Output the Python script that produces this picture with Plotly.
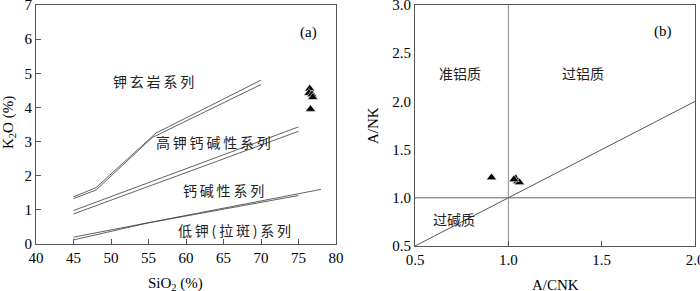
import plotly.graph_objects as go

# ---- Panel (a): K2O vs SiO2 ----
sho_upper_x = [45, 48, 56, 70]
sho_upper_y = [1.38, 1.65, 3.25, 4.80]
sho_lower_x = [45, 48, 55.5, 70]
sho_lower_y = [1.33, 1.58, 3.12, 4.67]

hk_upper_x = [45, 75]
hk_upper_y = [0.98, 3.43]
hk_lower_x = [45, 75]
hk_lower_y = [0.88, 3.30]

lk_a_x = [45, 78]
lk_a_y = [0.20, 1.60]
lk_b_x = [45, 55, 75]
lk_b_y = [0.12, 0.62, 1.42]

sample_sio2 = [76.5, 76.4, 76.8, 76.9, 76.6]
sample_k2o = [4.55, 4.42, 4.38, 4.30, 3.95]

labels_a = ["钾玄岩系列", "高钾钙碱性系列", "钙碱性系列", "低钾(拉斑)系列"]
labels_a_x = [55.6, 63.7, 65.0, 66.5]
labels_a_y = [4.76, 2.98, 1.58, 0.40]

# ---- Panel (b): A/NK vs A/CNK ----
ref_x = [0.5, 2.0]
ref_y = [0.5, 2.0]
sample_acnk = [0.91, 1.04, 1.05, 1.06, 1.03]
sample_ank = [1.21, 1.20, 1.17, 1.16, 1.19]

labels_b = ["准铝质", "过铝质", "过碱质"]
labels_b_x = [0.74, 1.40, 0.71]
labels_b_y = [2.29, 2.29, 0.78]

xticks_a = [40, 45, 50, 55, 60, 65, 70, 75, 80]
yticks_a = [0, 1, 2, 3, 4, 5, 6, 7]
xticks_b = [0.5, 1.0, 1.5, 2.0]
yticks_b = [0.5, 1.0, 1.5, 2.0, 2.5, 3.0]

SERIF = "Liberation Serif, Times New Roman, serif"
CJK = "Noto Sans CJK SC"
LINE_C = "#3a3a3a"
FRAME_C = "#555555"
SP = "\u2009"

fig = go.Figure()

for xs, ys in [(sho_upper_x, sho_upper_y), (sho_lower_x, sho_lower_y),
               (hk_upper_x, hk_upper_y), (hk_lower_x, hk_lower_y),
               (lk_a_x, lk_a_y), (lk_b_x, lk_b_y)]:
    fig.add_trace(go.Scatter(x=xs, y=ys, mode="lines", xaxis="x", yaxis="y",
                             line=dict(color=LINE_C, width=0.8),
                             hoverinfo="skip", showlegend=False))

fig.add_trace(go.Scatter(x=sample_sio2, y=sample_k2o, mode="markers",
                         xaxis="x", yaxis="y",
                         marker=dict(symbol="triangle-up", size=9, color="black",
                                     line=dict(color="white", width=0.6)),
                         showlegend=False))

# panel b reference lines
fig.add_trace(go.Scatter(x=ref_x, y=ref_y, mode="lines", xaxis="x2", yaxis="y2",
                         line=dict(color="#555555", width=1), showlegend=False,
                         hoverinfo="skip"))
fig.add_trace(go.Scatter(x=[1.0, 1.0], y=[0.5, 3.0], mode="lines", xaxis="x2", yaxis="y2",
                         line=dict(color="#888888", width=1), showlegend=False,
                         hoverinfo="skip"))
fig.add_trace(go.Scatter(x=[0.5, 2.0], y=[1.0, 1.0], mode="lines", xaxis="x2", yaxis="y2",
                         line=dict(color="#666666", width=1), showlegend=False,
                         hoverinfo="skip"))
fig.add_trace(go.Scatter(x=sample_acnk, y=sample_ank, mode="markers",
                         xaxis="x2", yaxis="y2",
                         marker=dict(symbol="triangle-up", size=9, color="black",
                                     line=dict(color="white", width=0.6)),
                         showlegend=False))

annotations = []
for t, x, y in zip(labels_a, labels_a_x, labels_a_y):
    annotations.append(dict(text=SP.join(t), x=x, y=y, xref="x", yref="y", showarrow=False,
                            font=dict(family=CJK, size=14, color="#222")))
for t, x, y in zip(labels_b, labels_b_x, labels_b_y):
    annotations.append(dict(text=t, x=x, y=y, xref="x2", yref="y2", showarrow=False,
                            font=dict(family=CJK, size=14, color="#222")))
annotations.append(dict(text="(a)", x=76.3, y=6.2, xref="x", yref="y", showarrow=False,
                        font=dict(family=SERIF, size=15, color="black")))
annotations.append(dict(text="(b)", x=1.83, y=2.72, xref="x2", yref="y2", showarrow=False,
                        font=dict(family=SERIF, size=15, color="black")))
# axis titles (pixel positions converted to paper fractions below)
titles = [
    ("K<sub>2</sub>O (%)", 9, 123, -90),
    ("SiO<sub>2</sub> (%)", 175, 284, 0),
    ("A/NK", 373, 125, -90),
    ("A/CNK", 555, 285, 0),
]
for t, px, py, ang in titles:
    annotations.append(dict(text=t, x=px / 700, y=(291 - py) / 291, xref="paper", yref="paper",
                            xanchor="center", yanchor="middle",
                            showarrow=False, textangle=ang,
                            font=dict(family=SERIF, size=15, color="black")))

axis_common = dict(showgrid=False, zeroline=False, showline=True, linecolor=FRAME_C,
                   linewidth=1, mirror=True, automargin=False, ticklabeloverflow="allow",
                   tickfont=dict(family=SERIF, size=15, color="black"))

fig.update_layout(
    width=700, height=291,
    margin=dict(l=0, r=0, t=0, b=0),
    paper_bgcolor="white", plot_bgcolor="white",
    showlegend=False,
    xaxis=dict(domain=[36 / 700, 336 / 700], range=[40, 80], tickvals=xticks_a,
               ticks="inside", ticklen=5, tickcolor=FRAME_C, anchor="y", **axis_common),
    yaxis=dict(domain=[(291 - 244) / 291, (291 - 5) / 291], range=[0, 7], tickvals=yticks_a,
               ticks="inside", ticklen=5, tickcolor=FRAME_C, anchor="x", **axis_common),
    xaxis2=dict(domain=[415 / 700, 695 / 700], range=[0.5, 2.0], tickvals=xticks_b,
                ticktext=["0.5", "1.0", "1.5", "2.0"],
                ticks="inside", ticklen=5, tickcolor=FRAME_C, anchor="y2", **axis_common),
    yaxis2=dict(domain=[(291 - 246) / 291, (291 - 5) / 291], range=[0.5, 3.0], tickvals=yticks_b,
                ticktext=["0.5", "1.0", "1.5", "2.0", "2.5", "3.0"],
                ticks="", anchor="x2", **axis_common),
    annotations=annotations,
)

fig.write_html("out.html", config={"displayModeBar": False},
               post_script="document.body.style.margin='0';document.body.style.overflow='hidden';")
